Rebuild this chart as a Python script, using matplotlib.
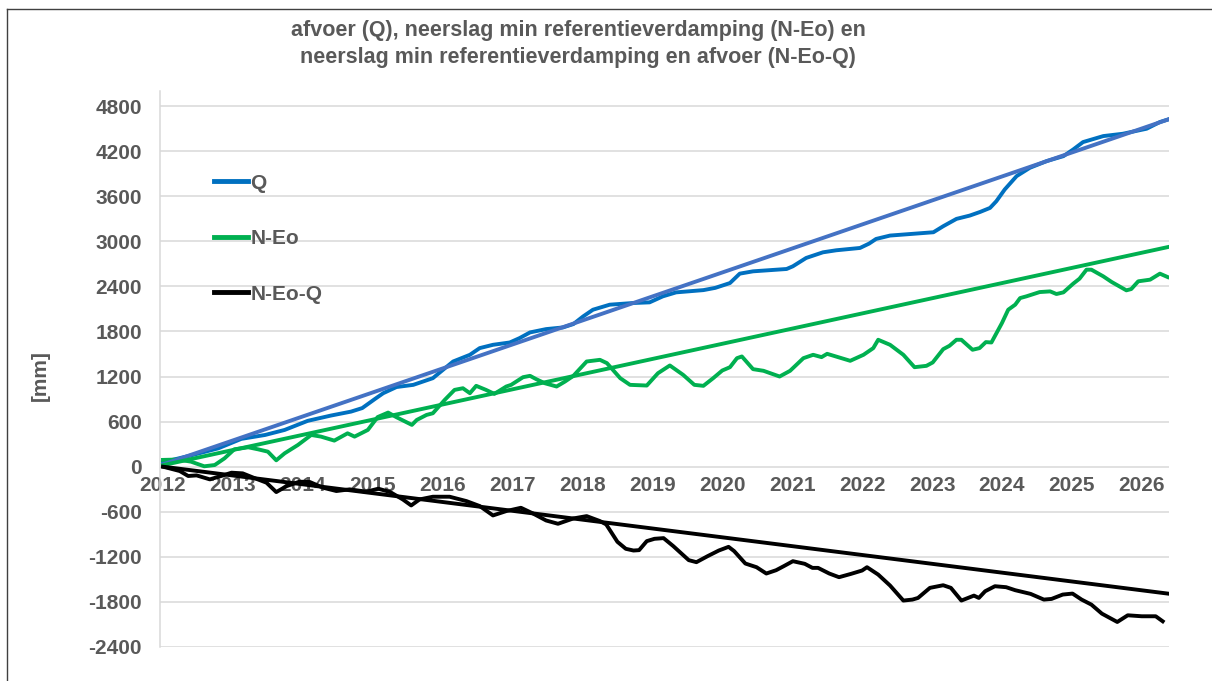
import numpy as np
import matplotlib
matplotlib.use("Agg")
import matplotlib.pyplot as plt
from matplotlib.lines import Line2D

# cumulative series (decimal year, mm)
q_years = [2012.0, 2012.4, 2012.79, 2013.12, 2013.46, 2013.74, 2014.07, 2014.4, 2014.69, 2014.85,
           2015.03, 2015.15, 2015.34, 2015.58, 2015.86, 2016.15, 2016.39, 2016.53, 2016.72, 2016.96,
           2017.1, 2017.25, 2017.48, 2017.72, 2017.87, 2018.01, 2018.15, 2018.39, 2018.72, 2018.96,
           2019.15, 2019.34, 2019.73, 2019.9, 2020.11, 2020.25, 2020.44, 2020.92, 2021.01, 2021.2,
           2021.44, 2021.63, 2021.97, 2022.1, 2022.2, 2022.4, 2023.02, 2023.16, 2023.35, 2023.54,
           2023.69, 2023.83, 2023.92, 2024.04, 2024.21, 2024.4, 2024.64, 2024.88, 2025.02, 2025.16,
           2025.45, 2025.73, 2026.07, 2026.26, 2026.38]
q_vals = [60, 150, 244, 370, 422, 489, 610, 680, 733, 780,
          900, 978, 1060, 1089, 1178, 1400, 1489, 1578, 1622, 1653,
          1711, 1787, 1831, 1853, 1898, 2000, 2089, 2156, 2178, 2187,
          2267, 2320, 2350, 2380, 2444, 2569, 2600, 2631, 2667, 2778,
          2853, 2880, 2911, 2969, 3031, 3076, 3120, 3200, 3298, 3342,
          3391, 3444, 3533, 3689, 3867, 3978, 4067, 4133, 4222, 4320,
          4400, 4431, 4498, 4587, 4622]

neo_years = [2012.0, 2012.21, 2012.4, 2012.59, 2012.74, 2012.88, 2013.02, 2013.22, 2013.36, 2013.5,
             2013.62, 2013.74, 2013.93, 2014.12, 2014.26, 2014.45, 2014.64, 2014.74, 2014.93, 2015.07,
             2015.22, 2015.34, 2015.56, 2015.63, 2015.77, 2015.86, 2016.03, 2016.17, 2016.29, 2016.39,
             2016.48, 2016.62, 2016.74, 2016.91, 2016.98, 2017.15, 2017.25, 2017.34, 2017.46, 2017.63,
             2017.75, 2017.87, 2018.06, 2018.25, 2018.35, 2018.54, 2018.68, 2018.92, 2019.08, 2019.25,
             2019.44, 2019.6, 2019.73, 2019.87, 2020.0, 2020.11, 2020.21, 2020.28, 2020.44, 2020.59,
             2020.82, 2020.97, 2021.16, 2021.3, 2021.42, 2021.5, 2021.83, 2022.02, 2022.16, 2022.23,
             2022.4, 2022.59, 2022.75, 2022.92, 2023.01, 2023.16, 2023.25, 2023.35, 2023.42, 2023.58,
             2023.68, 2023.77, 2023.85, 2024.0, 2024.09, 2024.19, 2024.26, 2024.35, 2024.54, 2024.69,
             2024.78, 2024.88, 2025.02, 2025.11, 2025.21, 2025.28, 2025.45, 2025.57, 2025.78, 2025.85,
             2025.95, 2026.12, 2026.26, 2026.37]
neo_vals = [90, 95, 67, 5, 22, 111, 231, 258, 231, 200,
            85, 178, 289, 422, 400, 347, 444, 400, 489, 660,
            720, 658, 556, 622, 689, 711, 889, 1022, 1044, 978,
            1076, 1022, 969, 1067, 1089, 1191, 1209, 1164, 1111, 1067,
            1133, 1209, 1400, 1422, 1378, 1178, 1089, 1080, 1244, 1347,
            1222, 1089, 1076, 1178, 1280, 1324, 1444, 1467, 1298, 1276,
            1200, 1276, 1444, 1489, 1458, 1502, 1409, 1489, 1578, 1689,
            1622, 1489, 1324, 1342, 1387, 1564, 1609, 1689, 1689, 1556,
            1578, 1658, 1653, 1911, 2089, 2156, 2244, 2267, 2324, 2333,
            2298, 2320, 2436, 2502, 2622, 2622, 2533, 2458, 2347, 2364,
            2467, 2489, 2569, 2524]

neoq_years = [2012.0, 2012.24, 2012.36, 2012.48, 2012.67, 2012.86, 2012.98, 2013.14, 2013.33, 2013.48,
              2013.62, 2013.77, 2013.95, 2014.1, 2014.29, 2014.48, 2014.67, 2014.91, 2015.08, 2015.25,
              2015.43, 2015.55, 2015.67, 2015.86, 2016.1, 2016.34, 2016.53, 2016.72, 2016.91, 2017.12,
              2017.29, 2017.48, 2017.65, 2017.87, 2018.06, 2018.25, 2018.34, 2018.5, 2018.62, 2018.73,
              2018.81, 2018.92, 2019.03, 2019.16, 2019.3, 2019.52, 2019.63, 2019.79, 2019.95, 2020.09,
              2020.17, 2020.33, 2020.49, 2020.63, 2020.77, 2020.88, 2021.01, 2021.18, 2021.29, 2021.37,
              2021.53, 2021.67, 2021.84, 2022.0, 2022.07, 2022.23, 2022.4, 2022.59, 2022.72, 2022.8,
              2022.97, 2023.16, 2023.27, 2023.42, 2023.6, 2023.67, 2023.76, 2023.9, 2024.06, 2024.19,
              2024.41, 2024.6, 2024.71, 2024.87, 2025.01, 2025.14, 2025.28, 2025.43, 2025.65, 2025.8,
              2026.0, 2026.2, 2026.3]
neoq_vals = [0, -58, -124, -116, -169, -116, -80, -89, -160, -213,
             -338, -258, -200, -204, -280, -324, -302, -333, -293, -338,
             -436, -516, -436, -400, -400, -458, -524, -649, -591, -547,
             -622, -716, -760, -689, -658, -724, -769, -1000, -1093, -1116,
             -1111, -991, -960, -951, -1058, -1244, -1271, -1191, -1116, -1067,
             -1124, -1289, -1338, -1422, -1378, -1324, -1258, -1293, -1347, -1347,
             -1422, -1471, -1427, -1382, -1338, -1436, -1582, -1782, -1769, -1747,
             -1613, -1578, -1613, -1782, -1716, -1747, -1658, -1591, -1604, -1644,
             -1693, -1769, -1760, -1702, -1689, -1769, -1836, -1956, -2067, -1978,
             -1991, -1991, -2058]

# linear trend lines (start / end)
trend_years = [2012.0, 2026.38]
q_trend = [30, 4622]
neo_trend = [20, 2924]
neoq_trend = [0, -1690]

year_ticks = list(range(2012, 2027))
y_ticks = list(range(-2400, 4801, 600))

txt = "#595959"
plt.rcParams["font.family"] = ["Liberation Sans", "DejaVu Sans"]
plt.rcParams["font.weight"] = "bold"
plt.rcParams["axes.unicode_minus"] = False

fig = plt.figure(figsize=(12.12, 6.81), dpi=100)
ax = fig.add_axes([160 / 1212, 1 - 647 / 681, (1169 - 160) / 1212, (647 - 91) / 681])

lw = 2.8
ax.plot(q_years, q_vals, color="#0070C0", lw=lw, solid_joinstyle="round")
ax.plot(neo_years, neo_vals, color="#00B050", lw=lw, solid_joinstyle="round")
ax.plot(neoq_years, neoq_vals, color="black", lw=lw, solid_joinstyle="round")
ax.plot(trend_years, q_trend, color="#4472C4", lw=lw)
ax.plot(trend_years, neo_trend, color="#00B050", lw=lw)
ax.plot(trend_years, neoq_trend, color="black", lw=lw)

ax.set_xlim(2011.957, 2026.39)
ax.set_ylim(-2400, 5000)
ax.set_yticks(y_ticks)
ax.set_xticks(year_ticks)
ax.grid(axis="y", color="#D9D9D9", lw=1.1, zorder=0)
ax.set_axisbelow(True)

for s in ["top", "right"]:
    ax.spines[s].set_visible(False)
ax.spines["left"].set_color("#D9D9D9")
ax.spines["left"].set_linewidth(1.1)
ax.spines["bottom"].set_position(("data", 0))
ax.spines["bottom"].set_visible(False)

ax.tick_params(axis="y", length=0, pad=13, labelsize=15, labelcolor=txt)
ax.tick_params(axis="x", length=0, pad=7, labelsize=15, labelcolor=txt)

ax.set_ylabel("[mm]", fontsize=15, color=txt, fontweight="bold")
ax.yaxis.set_label_coords(-0.109, 0.488)

handles = [Line2D([], [], color="#0070C0", lw=3.5),
           Line2D([], [], color="#00B050", lw=3.5),
           Line2D([], [], color="black", lw=3.5)]
leg = ax.legend(handles, ["Q", "N-Eo", "N-Eo-Q"], loc="upper left",
                bbox_to_anchor=(0.035, 0.885), frameon=False, fontsize=15,
                handlelength=1.65, handletextpad=0.1, labelspacing=1.75)
for t in leg.get_texts():
    t.set_color(txt)

fig.text(0.477, 1 - 44 / 681,
         "afvoer (Q), neerslag min referentieverdamping (N-Eo) en\n"
         "neerslag min referentieverdamping en afvoer (N-Eo-Q)",
         ha="center", va="center", fontsize=15.5, color=txt, fontweight="bold",
         linespacing=1.35)

# chart area border
fig.add_artist(Line2D([7 / 1212, 7 / 1212], [0, 1 - 9 / 681], transform=fig.transFigure,
                      color="#404040", lw=1))
fig.add_artist(Line2D([7 / 1212, 1], [1 - 9 / 681, 1 - 9 / 681], transform=fig.transFigure,
                      color="#404040", lw=1))

fig.savefig("out.png", dpi=100)
